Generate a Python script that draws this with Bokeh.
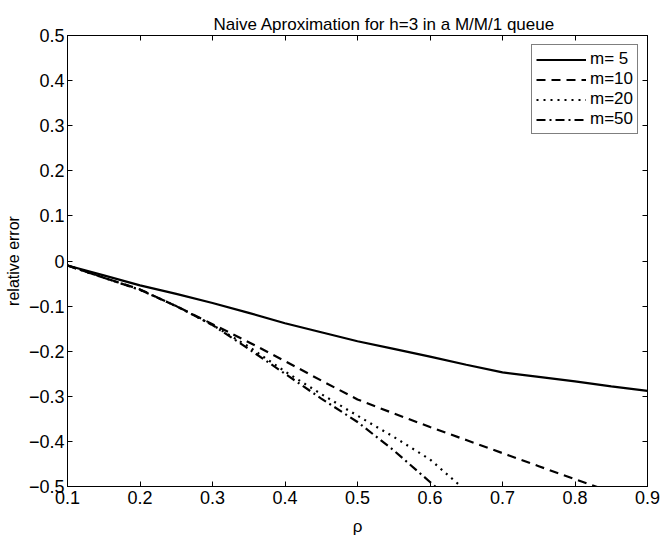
from bokeh.plotting import figure
from bokeh.models import LinearAxis, FixedTicker, Range1d, Legend, LegendItem
from bokeh.embed import file_html
from bokeh.resources import INLINE

# ---- data ----
rho = [0.10, 0.15, 0.20, 0.25, 0.30, 0.35, 0.40, 0.45, 0.50, 0.55, 0.60, 0.65, 0.70, 0.75, 0.80, 0.85, 0.90]
err_m5 = [-0.010, -0.032, -0.054, -0.073, -0.093, -0.115, -0.138, -0.158, -0.178, -0.195, -0.212, -0.230, -0.247, -0.257, -0.267, -0.278, -0.288]
rho_m10 = [0.10, 0.15, 0.20, 0.25, 0.30, 0.35, 0.40, 0.45, 0.50, 0.55, 0.60, 0.65, 0.70, 0.75, 0.80, 0.85]
err_m10 = [-0.010, -0.037, -0.063, -0.100, -0.140, -0.180, -0.222, -0.265, -0.307, -0.338, -0.368, -0.397, -0.426, -0.455, -0.484, -0.512]
rho_m20 = [0.10, 0.15, 0.20, 0.25, 0.30, 0.35, 0.40, 0.45, 0.50, 0.55, 0.60, 0.65]
err_m20 = [-0.010, -0.037, -0.064, -0.100, -0.142, -0.190, -0.245, -0.295, -0.343, -0.390, -0.440, -0.510]
rho_m50 = [0.10, 0.15, 0.20, 0.25, 0.30, 0.35, 0.40, 0.45, 0.50, 0.55, 0.60, 0.65]
err_m50 = [-0.010, -0.037, -0.064, -0.100, -0.142, -0.195, -0.250, -0.305, -0.357, -0.420, -0.490, -0.560]

series_labels = ["m= 5", "m=10", "m=20", "m=50"]
x_ticks = [0.1, 0.2, 0.3, 0.4, 0.5, 0.6, 0.7, 0.8, 0.9]
x_tick_labels = ["0.1", "0.2", "0.3", "0.4", "0.5", "0.6", "0.7", "0.8", "0.9"]
y_ticks = [0.5, 0.4, 0.3, 0.2, 0.1, 0.0, -0.1, -0.2, -0.3, -0.4, -0.5]
y_tick_labels = ["0.5", "0.4", "0.3", "0.2", "0.1", "0", "\u22120.1", "\u22120.2", "\u22120.3", "\u22120.4", "\u22120.5"]

FONT = "Liberation Sans"

p = figure(width=661, height=538, output_backend="svg", toolbar_location=None,
           x_range=Range1d(0.1, 0.9), y_range=Range1d(-0.5, 0.5),
           min_border_left=67, min_border_right=14, min_border_top=35, min_border_bottom=52,
           background_fill_color="white", border_fill_color="white")
p.xgrid.visible = False
p.ygrid.visible = False
p.outline_line_color = "black"
p.outline_line_width = 1

p.title.text = "Naive Aproximation for h=3 in a M/M/1 queue"
p.title.align = "left"
p.title.offset = 146
p.title.text_font = FONT
p.title.text_font_size = "17px"
p.title.text_font_style = "normal"
p.title.text_color = "black"
p.title.standoff = 4

def style_axis(ax, labels=True):
    ax.major_tick_in = 5
    ax.major_tick_out = 0
    ax.minor_tick_line_color = None
    ax.axis_line_color = "black"
    ax.major_tick_line_color = "black"
    ax.major_label_text_font = FONT
    ax.major_label_text_font_size = "18px"
    ax.major_label_text_color = "black"
    ax.major_label_standoff = 3
    if not labels:
        ax.major_label_text_font_size = "0px"
        ax.major_label_text_color = None

xa = p.xaxis[0]
xa.ticker = FixedTicker(ticks=x_ticks)
xa.major_label_overrides = {t: l for t, l in zip(x_ticks, x_tick_labels)}
xa.axis_label = "\u03c1"
xa.axis_label_text_font = FONT
xa.axis_label_text_font_size = "17px"
xa.axis_label_text_font_style = "normal"
xa.axis_label_text_color = "black"
xa.axis_label_standoff = 10
style_axis(xa)
xa.major_label_standoff = 4

ya = p.yaxis[0]
ya.ticker = FixedTicker(ticks=y_ticks)
ya.major_label_overrides = {t: l for t, l in zip(y_ticks, y_tick_labels)}
ya.axis_label = "relative error"
ya.axis_label_text_font = FONT
ya.axis_label_text_font_size = "16px"
ya.axis_label_text_font_style = "normal"
ya.axis_label_text_color = "black"
ya.axis_label_standoff = 4
style_axis(ya)

top = LinearAxis(ticker=FixedTicker(ticks=x_ticks))
style_axis(top, labels=False)
p.add_layout(top, "above")
right = LinearAxis(ticker=FixedTicker(ticks=y_ticks))
style_axis(right, labels=False)
p.add_layout(right, "right")

lw = 2.2
r5 = p.line(rho, err_m5, line_color="black", line_width=lw)
r10 = p.line(rho_m10, err_m10, line_color="black", line_width=lw, line_dash="9 6")
r20 = p.line(rho_m20, err_m20, line_color="black", line_width=lw, line_dash="2 5")
r50 = p.line(rho_m50, err_m50, line_color="black", line_width=lw, line_dash="9 4 2 4")

legend = Legend(items=[LegendItem(label=series_labels[0], renderers=[r5]),
                       LegendItem(label=series_labels[1], renderers=[r10]),
                       LegendItem(label=series_labels[2], renderers=[r20]),
                       LegendItem(label=series_labels[3], renderers=[r50])],
                location="top_right")
legend.margin = 9
legend.padding = 4
legend.spacing = 0
legend.glyph_width = 50
legend.glyph_height = 19
legend.label_height = 19
legend.label_standoff = 4
legend.label_text_font = FONT
legend.label_text_font_size = "17px"
legend.label_text_color = "black"
legend.border_line_color = "black"
legend.border_line_width = 1
legend.background_fill_alpha = 1.0
p.add_layout(legend, "center")

open("out.html", "w").write(file_html(p, INLINE))
